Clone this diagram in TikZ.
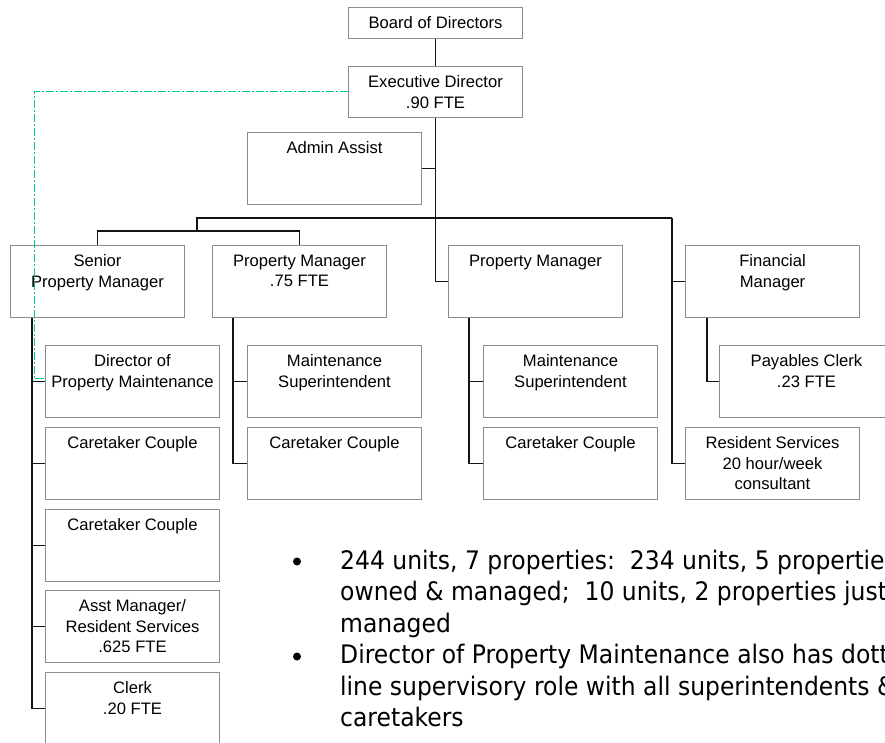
\documentclass[tikz,border=0pt]{standalone}
\usepackage{fontspec}
\setmainfont{Liberation Sans}
\newfontfamily\bulletfont[FakeStretch=0.92]{DejaVu Sans}
\begin{document}
\begin{tikzpicture}[x=1pt,y=-1pt,
  box/.style={draw={rgb,255:red,140;green,140;blue,140}, line width=1pt, anchor=north west,
    inner sep=0pt, minimum width=174pt, minimum height=72pt},
  lbl/.style={anchor=north, inner sep=0pt, yshift=-9.5pt, align=center,
    font=\fontsize{16.6}{20.3}\selectfont},
  conn/.style={draw={rgb,255:red,20;green,20;blue,20}, line width=1.1pt},
  dotline/.style={draw={rgb,255:red,0;green,204;blue,153}, line width=1pt,
    dash pattern=on 8pt off 2pt on 2pt off 2pt},
  btext/.style={anchor=base west, inner sep=0pt, align=left,
    font=\bulletfont\fontsize{25.5}{31.5}\selectfont}
]
\useasboundingbox (0,0) rectangle (885,743);
\clip (0,0) rectangle (885,743);
\fill[white] (0,0) rectangle (885,743);

% boxes
\node[box, minimum height=31pt, label={[lbl]north:Board of Directors}] (board) at (348,7) {};
\node[box, minimum height=51pt, label={[lbl]north:Executive Director\\.90 FTE}] (exec) at (348,66) {};
\node[box, label={[lbl]north:Admin Assist}] (admin) at (247,132) {};

\node[box, label={[lbl]north:Senior\\Property Manager}] (spm) at (10,245) {};
\node[box, label={[lbl]north:Property Manager\\.75 FTE}] (pm75) at (212,245) {};
\node[box, label={[lbl]north:Property Manager}] (pm3) at (448,245) {};
\node[box, label={[lbl]north:Financial\\Manager}] (fm) at (685,245) {};

\node[box, label={[lbl]north:Director of\\Property Maintenance}] (dir) at (45,345) {};
\node[box, label={[lbl]north:Caretaker Couple}] (cca) at (45,427) {};
\node[box, label={[lbl]north:Caretaker Couple}] (ccb) at (45,509) {};
\node[box, label={[lbl]north:Asst Manager/\\Resident Services\\.625 FTE}] (asst) at (45,590) {};
\node[box, label={[lbl]north:Clerk\\.20 FTE}] (clerk) at (45,672) {};

\node[box, label={[lbl]north:Maintenance\\Superintendent}] (ms1) at (247,345) {};
\node[box, label={[lbl]north:Caretaker Couple}] (cc1) at (247,427) {};

\node[box, label={[lbl]north:Maintenance\\Superintendent}] (ms2) at (483,345) {};
\node[box, label={[lbl]north:Caretaker Couple}] (cc2) at (483,427) {};

\node[box, label={[lbl]north:Payables Clerk\\.23 FTE}] (pay) at (719,345) {};
\node[box, label={[lbl]north:Resident Services\\20 hour/week\\consultant}] (rs) at (685,427) {};

% connectors
\coordinate (j1) at (197,231);
\coordinate (j2) at (672,218);
\draw[conn] (board.south) -- (exec.north);
\draw[conn] (exec.south) |- (pm3.west);
\draw[conn] (admin.east) -- (admin.east -| exec.south);
\draw[conn] (spm.north) -- (spm.north |- j1) -| (pm75.north);
\draw[conn] (j1) |- (j2);
\draw[conn] (j2) |- (fm.west);
\draw[conn] (j2) |- (rs.west);

\coordinate (sv) at ([xshift=22pt]spm.south west);
\draw[conn] (sv) |- (dir.west);
\draw[conn] (sv) |- (cca.west);
\draw[conn] (sv) |- (ccb.west);
\draw[conn] (sv) |- (asst.west);
\draw[conn] (sv) |- (clerk.west);

\coordinate (pv) at ([xshift=21pt]pm75.south west);
\draw[conn] (pv) |- (ms1.west);
\draw[conn] (pv) |- (cc1.west);

\coordinate (qv) at ([xshift=21pt]pm3.south west);
\draw[conn] (qv) |- (ms2.west);
\draw[conn] (qv) |- (cc2.west);

\coordinate (fv) at ([xshift=22pt]fm.south west);
\draw[conn] (fv) |- (pay.west);

% dotted supervisory line
\coordinate (gx) at (34,0);
\draw[dotline] (exec.west) -- (exec.west -| gx) |- ([yshift=3pt]dir.west);

% notes (base anchor = baseline of the last line)
\node[circle, fill=black, inner sep=0pt, minimum size=8pt] (b1) at (297,561.5) {};
\node[circle, fill=black, inner sep=0pt, minimum size=8pt] (b2) at (297,656.5) {};
\node[btext] (t1) at (340,632) {244 units, 7 properties:\ \ 234 units, 5 properties\\owned \& managed;\ \ 10 units, 2 properties just\\managed};
\node[btext] (t2) at (340,726.5) {Director of Property Maintenance also has dotted\\line supervisory role with all superintendents \&\\caretakers};
\end{tikzpicture}
\end{document}
